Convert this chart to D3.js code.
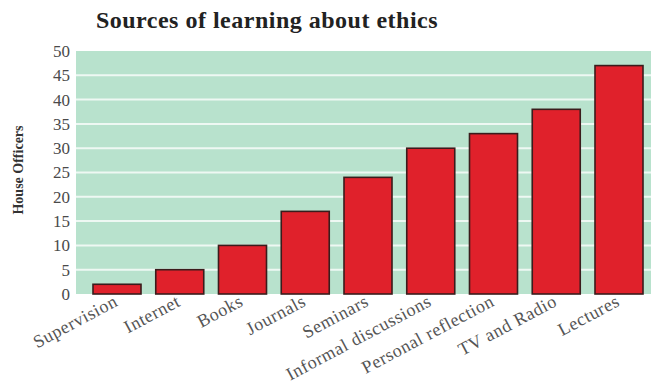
<!DOCTYPE html>
<html><head><meta charset="utf-8">
<script src="https://cdn.jsdelivr.net/npm/d3@7"></script>
<style>body{margin:0;background:#fff}svg{display:block}</style>
</head><body>
<svg id="c" width="652" height="383"></svg>
<script>
const categories = ["Supervision","Internet","Books","Journals","Seminars","Informal discussions","Personal reflection","TV and Radio","Lectures"];
const values = [2,5,10,17,24,30,33,38,47];
const yTicks = [0,5,10,15,20,25,30,35,40,45,50];
const title = "Sources of learning about ethics";
const yTitle = "House Officers";

const svg = d3.select("#c");
const plot = {left:76, right:651, top:51, bottom:294};
const x = d3.scaleBand().domain(categories).range([93,643]).paddingInner(0.235).paddingOuter(0);
const y = d3.scaleLinear().domain([0,50]).range([plot.bottom, plot.top]);

svg.append("rect").attr("x",plot.left).attr("y",plot.top)
  .attr("width",plot.right-plot.left).attr("height",plot.bottom-plot.top).attr("fill","#b8e2cd");

svg.append("g").selectAll("line").data(yTicks.filter(d=>d>0&&d<50)).join("line")
  .attr("x1",plot.left).attr("x2",plot.right)
  .attr("y1",d=>y(d)).attr("y2",d=>y(d))
  .attr("stroke","#eef8f3").attr("stroke-width",2);

const yAxis = svg.append("g").attr("transform",`translate(${plot.left},0)`)
  .call(d3.axisLeft(y).tickValues(yTicks).tickSize(0).tickPadding(6));
yAxis.select(".domain").remove();
yAxis.selectAll("text").attr("font-family","Liberation Serif, serif").attr("font-size",17).attr("fill","#4a4a4a");

svg.append("g").selectAll("rect").data(values).join("rect")
  .attr("x",(d,i)=>x(categories[i]))
  .attr("y",d=>y(d))
  .attr("width",x.bandwidth())
  .attr("height",d=>y(0)-y(d))
  .attr("fill","#e0212b").attr("stroke","#3a1c1c").attr("stroke-width",1.6);

const xAxis = svg.append("g").attr("transform",`translate(0,${plot.bottom})`)
  .call(d3.axisBottom(x).tickSize(0).tickPadding(0));
xAxis.select(".domain").remove();
xAxis.selectAll("text")
  .attr("font-family","Liberation Serif, serif").attr("font-size",18).attr("fill","#555")
  .attr("letter-spacing","0.6").attr("text-anchor","end").attr("dy","0")
  .attr("transform","translate(2,11) rotate(-28)");

svg.append("text").attr("x",267).attr("y",28).attr("text-anchor","middle")
  .attr("font-family","Liberation Serif, serif").attr("font-weight","bold").attr("font-size",24)
  .attr("letter-spacing","0.5").attr("fill","#222").text(title);

svg.append("text").attr("transform","translate(23,170) rotate(-90)").attr("text-anchor","middle")
  .attr("font-family","Liberation Serif, serif").attr("font-weight","bold").attr("font-size",14)
  .attr("fill","#333").text(yTitle);
</script>
</body></html>
